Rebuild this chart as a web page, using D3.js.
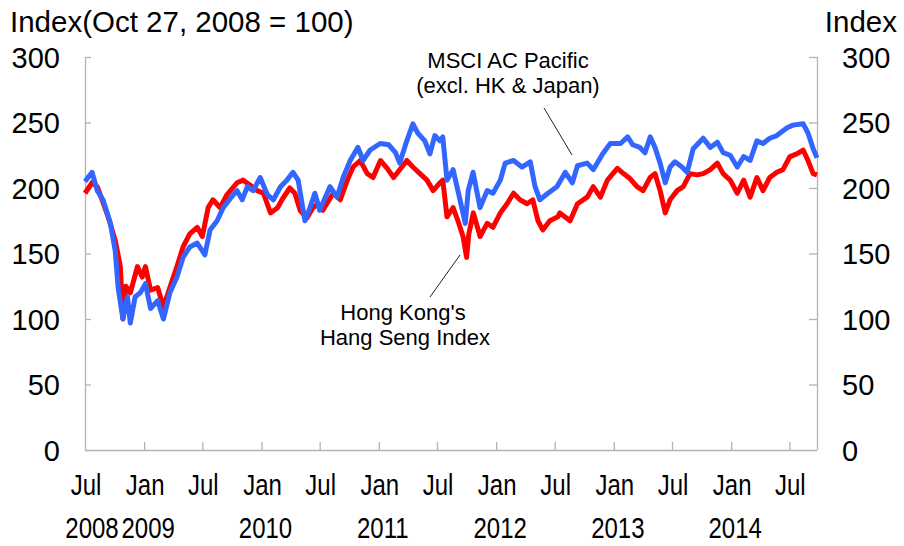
<!DOCTYPE html>
<html><head><meta charset="utf-8">
<script src="https://cdn.jsdelivr.net/npm/d3@7/dist/d3.min.js"></script>
<style>body{margin:0;background:#fff}svg{display:block}</style>
</head><body><svg id="c" width="904" height="546"></svg>
<script>
const blueDates = ["2008-07-01","2008-07-23","2008-08-08","2008-08-26","2008-09-18","2008-10-03","2008-10-12","2008-10-27","2008-11-10","2008-11-19","2008-12-04","2008-12-20","2009-01-05","2009-01-21","2009-02-12","2009-03-02","2009-03-22","2009-04-13","2009-05-02","2009-05-23","2009-06-15","2009-07-09","2009-07-25","2009-08-16","2009-09-04","2009-09-26","2009-10-17","2009-11-02","2009-11-18","2009-12-06","2009-12-28","2010-01-19","2010-02-07","2010-03-01","2010-03-21","2010-04-09","2010-04-25","2010-05-16","2010-06-01","2010-06-16","2010-07-01","2010-08-02","2010-08-24","2010-09-12","2010-10-04","2010-10-28","2010-11-13","2010-12-05","2011-01-06","2011-02-01","2011-02-22","2011-03-07","2011-03-29","2011-04-17","2011-05-02","2011-05-24","2011-06-09","2011-06-24","2011-07-10","2011-07-19","2011-08-01","2011-08-20","2011-09-04","2011-09-27","2011-10-06","2011-10-21","2011-11-12","2011-12-04","2011-12-22","2012-01-14","2012-01-29","2012-02-24","2012-03-21","2012-04-16","2012-05-01","2012-05-16","2012-06-10","2012-07-08","2012-08-03","2012-08-25","2012-09-10","2012-10-10","2012-10-29","2012-11-27","2012-12-21","2013-01-22","2013-02-13","2013-03-01","2013-03-23","2013-04-08","2013-04-24","2013-05-09","2013-05-25","2013-06-10","2013-06-25","2013-07-10","2013-08-01","2013-08-17","2013-09-05","2013-10-06","2013-10-28","2013-11-19","2013-12-07","2013-12-29","2014-01-20","2014-02-09","2014-03-01","2014-03-22","2014-04-10","2014-05-01","2014-05-23","2014-06-24","2014-07-12","2014-08-13","2014-08-28","2014-09-13","2014-09-25"];
const blueValues = [205,212,198,191,173,152,124,100,117,97,117,120,127,108,114,100,120,132,147,155,158,149,168,175,185,192,198,191,201,198,208,195,191,201,206,212,206,175,185,196,183,201,193,208,221,231,221,229,234,233,227,219,236,249,242,236,226,240,236,239,206,214,198,173,198,212,185,198,196,206,219,221,216,220,201,191,196,201,212,204,217,219,214,226,234,234,239,233,231,227,239,231,219,204,216,220,216,212,230,238,231,235,227,225,216,224,221,236,234,238,240,246,248,249,242,230,223];
const redDates = ["2008-07-01","2008-07-23","2008-08-08","2008-08-26","2008-09-11","2008-10-03","2008-10-19","2008-10-27","2008-11-05","2008-11-19","2008-12-11","2008-12-26","2009-01-05","2009-01-21","2009-02-12","2009-03-02","2009-03-22","2009-04-13","2009-05-02","2009-05-23","2009-06-15","2009-07-01","2009-07-19","2009-08-03","2009-08-25","2009-09-16","2009-10-17","2009-11-05","2009-11-27","2009-12-19","2010-01-07","2010-01-29","2010-02-20","2010-03-08","2010-03-30","2010-04-15","2010-05-01","2010-05-22","2010-06-10","2010-06-26","2010-07-11","2010-08-12","2010-09-03","2010-09-25","2010-10-13","2010-11-04","2010-11-26","2010-12-14","2011-01-06","2011-01-27","2011-02-16","2011-03-07","2011-03-29","2011-04-17","2011-05-09","2011-05-31","2011-06-19","2011-07-10","2011-07-19","2011-08-01","2011-08-20","2011-09-04","2011-09-20","2011-10-01","2011-10-08","2011-10-22","2011-11-12","2011-12-04","2011-12-22","2012-01-14","2012-02-04","2012-02-24","2012-03-15","2012-04-06","2012-04-24","2012-05-10","2012-05-25","2012-06-16","2012-07-11","2012-07-17","2012-08-18","2012-09-10","2012-10-10","2012-10-29","2012-11-20","2012-12-12","2013-01-12","2013-01-31","2013-02-21","2013-03-14","2013-04-02","2013-04-24","2013-05-09","2013-05-25","2013-06-10","2013-06-25","2013-07-17","2013-08-05","2013-08-26","2013-09-17","2013-10-06","2013-10-28","2013-11-19","2013-12-07","2013-12-29","2014-01-20","2014-02-09","2014-03-01","2014-03-22","2014-04-10","2014-05-01","2014-05-23","2014-06-11","2014-07-03","2014-07-24","2014-08-13","2014-08-28","2014-09-13","2014-09-25"];
const redValues = [196,204,201,189,178,160,140,100,125,120,140,132,140,122,124,109,124,140,155,165,170,163,185,191,185,195,204,206,202,198,196,181,185,192,200,196,183,177,185,188,183,196,191,206,216,221,211,208,221,215,208,214,221,216,211,206,198,204,206,178,185,175,163,147,165,181,163,173,170,181,188,196,191,188,191,175,168,175,178,181,175,188,193,201,193,206,215,211,207,201,198,208,211,198,181,191,198,201,211,210,211,214,219,211,206,196,206,193,208,198,208,212,214,224,226,229,221,211,210];
const yTicks = [0,50,100,150,200,250,300];
const monthTickDates = ["2008-07-01","2009-01-01","2009-07-01","2010-01-01","2010-07-01","2011-01-01","2011-07-01","2012-01-01","2012-07-01","2013-01-01","2013-07-01","2014-01-01","2014-07-01"];
const monthLabels = ["Jul","Jan","Jul","Jan","Jul","Jan","Jul","Jan","Jul","Jan","Jul","Jan","Jul"];
const yearLabelDates = ["2008-07-01","2009-01-01","2010-01-01","2011-01-01","2012-01-01","2013-01-01","2014-01-01"];
const yearLabels = ["2008","2009","2010","2011","2012","2013","2014"];
const xDomain = ["2008-07-01","2014-09-25"];

const parse = d3.timeParse("%Y-%m-%d");
const svg = d3.select("#c");
const font = "Liberation Sans, Arial, sans-serif";
const L = 85, R = 817, T = 57, B = 450;
const x = d3.scaleTime().domain(xDomain.map(parse)).range([L, R]);
const y = d3.scaleLinear().domain([0, 300]).range([B, T]);
const axisColor = "#b3b3b3";

const gL = svg.append("g").attr("transform", `translate(${L},0)`)
  .call(d3.axisRight(y).tickValues(yTicks).tickSize(6).tickFormat(""));
const gR = svg.append("g").attr("transform", `translate(${R},0)`)
  .call(d3.axisLeft(y).tickValues(yTicks).tickSize(8).tickFormat(""));
const tickDates = monthTickDates.map(parse);
const gB = svg.append("g").attr("transform", `translate(0,${B})`)
  .call(d3.axisTop(x).tickValues(tickDates.slice(1)).tickSize(8).tickFormat(""));
[gL, gR, gB].forEach(g => {
  g.select(".domain").attr("stroke", axisColor).attr("stroke-width", 1.3);
  g.selectAll(".tick line").attr("stroke", axisColor).attr("stroke-width", 1.3);
});
gB.select(".domain").attr("d", `M${L},0.5H${R}`);
gL.select(".domain").attr("d", `M0.5,${T}V${B}`);
gR.select(".domain").attr("d", `M0.5,${T}V${B}`);
gL.selectAll(".tick").filter(d => d === 0).remove();
gR.selectAll(".tick").filter(d => d === 0).remove();

svg.append("g").selectAll("text").data(yTicks).join("text")
  .attr("x", 60).attr("y", d => y(d) + 10.5).attr("text-anchor", "end")
  .attr("font-family", font).attr("font-size", 29).attr("fill", "#000").text(d => d);
svg.append("g").selectAll("text").data(yTicks).join("text")
  .attr("x", 842).attr("y", d => y(d) + 10.5).attr("text-anchor", "start")
  .attr("font-family", font).attr("font-size", 29).attr("fill", "#000").text(d => d);

// x labels (slightly condensed, as in the reference)
svg.append("g").selectAll("text").data(monthLabels).join("text")
  .attr("transform", (d, i) => `translate(${x(tickDates[i]) + 1},495) scale(0.8,1)`)
  .attr("text-anchor", "middle")
  .attr("font-family", font).attr("font-size", 30).attr("fill", "#000").text(d => d);
svg.append("g").selectAll("text").data(yearLabels).join("text")
  .attr("transform", (d, i) => `translate(${x(parse(yearLabelDates[i])) + (i === 0 ? 7 : 4)},538) scale(0.8,1)`)
  .attr("text-anchor", "middle")
  .attr("font-family", font).attr("font-size", 30).attr("fill", "#000").text(d => d);

svg.append("text").attr("x", 10).attr("y", 32).attr("font-family", font).attr("font-size", 29.5)
  .text("Index(Oct 27, 2008 = 100)");
svg.append("text").attr("x", 897).attr("y", 32).attr("text-anchor", "end").attr("font-family", font).attr("font-size", 29.5)
  .text("Index");

const line = d3.line().x(d => x(d[0])).y(d => y(d[1])).curve(d3.curveLinear);
const red = redDates.map((d, i) => [parse(d), redValues[i]]);
const blue = blueDates.map((d, i) => [parse(d), blueValues[i]]);
svg.append("path").datum(red).attr("d", line).attr("fill", "none").attr("stroke", "#ff0000")
  .attr("stroke-width", 5).attr("stroke-linejoin", "round");
svg.append("path").datum(blue).attr("d", line).attr("fill", "none").attr("stroke", "#3366ff")
  .attr("stroke-width", 5).attr("stroke-linejoin", "round");

const ann = svg.append("g").attr("font-family", font).attr("font-size", 22).attr("text-anchor", "middle").attr("fill", "#000");
ann.append("text").attr("x", 508).attr("y", 68).text("MSCI AC Pacific");
ann.append("text").attr("x", 508).attr("y", 93).text("(excl. HK & Japan)");
ann.append("text").attr("x", 403).attr("y", 320).text("Hong Kong's");
ann.append("text").attr("x", 405).attr("y", 345).text("Hang Seng Index");
svg.append("line").attr("x1", 544).attr("y1", 108).attr("x2", 572).attr("y2", 155).attr("stroke", "#222").attr("stroke-width", 1);
svg.append("line").attr("x1", 430).attr("y1", 297).attr("x2", 460).attr("y2", 255).attr("stroke", "#222").attr("stroke-width", 1);
</script></body></html>
